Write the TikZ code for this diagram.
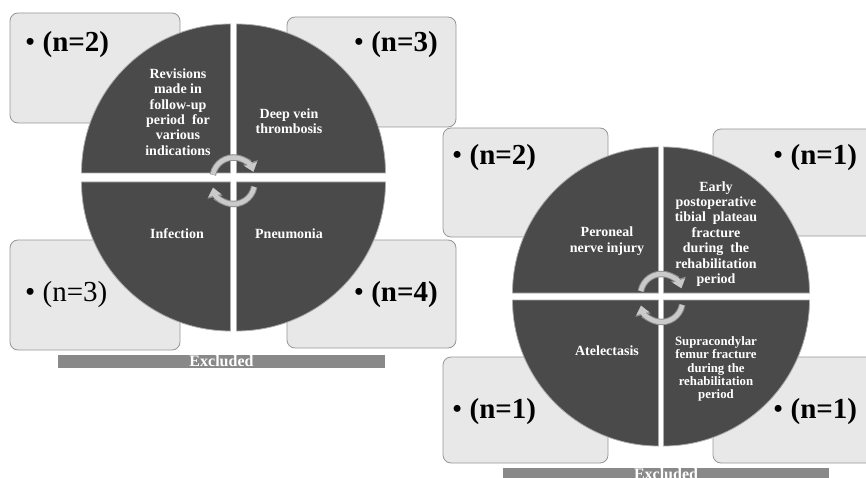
\documentclass[tikz,border=0pt]{standalone}
\usepackage{fontspec}
\setmainfont{Liberation Serif}
\usepackage{xcolor}
\usepackage{tikz}
\usetikzlibrary{arrows.meta}
\usetikzlibrary{positioning}

\definecolor{boxgray}{HTML}{E8E8E8}
\definecolor{boxline}{HTML}{979797}
\definecolor{piegray}{HTML}{4A4A4A}
\definecolor{bargray}{HTML}{898989}
\definecolor{silver}{HTML}{CACACA}
\definecolor{silveredge}{HTML}{8E8E8E}

\begin{document}
\begin{tikzpicture}[x=1pt, y=1pt,
    countbox/.style={fill=boxgray, draw=boxline, line width=0.8pt, rounded corners=8pt},
    piece/.style={fill=piegray, draw=gray!65, line width=0.8pt},
    piecetext/.style={text=white, font=\fontsize{14}{15.4}\selectfont\bfseries, align=center, inner sep=0pt},
    smalltext/.style={text=white, font=\fontsize{12.8}{13.4}\selectfont\bfseries, align=center, inner sep=0pt},
    count/.style={font=\fontsize{29}{32}\selectfont, inner sep=0pt},
    boldcount/.style={count, font=\fontsize{29}{32}\selectfont\bfseries},
    bartext/.style={text=white, font=\fontsize{16}{18}\selectfont\bfseries, inner sep=0pt},
    turnedge/.style={line width=6.5pt, draw=silveredge, -{Triangle[length=10pt, width=15pt]}},
    turn/.style={line width=4.5pt, draw=silver, -{Triangle[length=8pt, width=12.5pt]}}]
    \useasboundingbox (0,0) rectangle (866,477);
    \clip (0,0) rectangle (866,477);

    % Left diagram: boxes
    \draw[countbox] (10,354) rectangle (180,464);
    \draw[countbox] (287,350) rectangle (456,460);
    \draw[countbox] (10,127) rectangle (180,237);
    \draw[countbox] (287,129) rectangle (456,237);

    % Left diagram: quarters
    \draw[piece] (230.5,304) -- ++(-149,0) arc[start angle=180, end angle=90, radius=149] -- cycle;
    \draw[piece] (236.5,304) -- ++(0,149) arc[start angle=90, end angle=0, radius=149] -- cycle;
    \draw[piece] (230.5,295) -- ++(0,-149) arc[start angle=270, end angle=180, radius=149] -- cycle;
    \draw[piece] (236.5,295) -- ++(149,0) arc[start angle=0, end angle=-90, radius=149] -- cycle;

    \node[piecetext] (revisions) at (178,365) {Revisions\\made in\\follow-up\\period~ for\\various\\indications};
    \node[piecetext] (dvt) at (289,356) {Deep vein\\thrombosis};
    \node[piecetext] (infection) at (177,243) {Infection};
    \node[piecetext] (pneumonia) at (289,243) {Pneumonia};

    \node[boldcount, anchor=west] (nrevisions) at (25,432) {\textmd{\textbullet}\ (n=2)};
    \node[boldcount, anchor=east] (ndvt) at (438,432) {\textmd{\textbullet}\ (n=3)};
    \node[count, anchor=west] (ninfection) at (25,182) {\textbullet\ (n=3)};
    \node[boldcount, anchor=east] (npneumonia) at (438,182) {\textmd{\textbullet}\ (n=4)};

    % Left diagram: turning arrows
    \draw[turnedge] (233.5,298.5) ++(170:21) arc[start angle=170, end angle=18, radius=21];
    \draw[turn] (233.5,298.5) ++(169:21) arc[start angle=169, end angle=19, radius=21];
    \draw[turnedge] (233.5,294) ++(-10:21) arc[start angle=-10, end angle=-168, radius=21];
    \draw[turn] (233.5,294) ++(-11:21) arc[start angle=-11, end angle=-167, radius=21];

    \fill[bargray] (58,109) rectangle (385,122);
    \node[bartext] (lexcluded) at (221.5,115.5) {Excluded};

    % Right diagram: boxes
    \draw[countbox] (443,240) rectangle (608,349);
    \draw[countbox] (713,241) rectangle (885,348);
    \draw[countbox] (443,14) rectangle (608,120);
    \draw[countbox] (713,14) rectangle (885,120);

    % Right diagram: quarters
    \draw[piece] (658.5,184) -- ++(-146,0) arc[start angle=180, end angle=90, radius=146] -- cycle;
    \draw[piece] (663.5,184) -- ++(0,146) arc[start angle=90, end angle=0, radius=146] -- cycle;
    \draw[piece] (658.5,177) -- ++(0,-146) arc[start angle=270, end angle=180, radius=146] -- cycle;
    \draw[piece] (663.5,177) -- ++(146,0) arc[start angle=0, end angle=-90, radius=146] -- cycle;

    \node[piecetext] (peroneal) at (607,236) {Peroneal\\nerve injury};
    \node[piecetext] (tibial) at (716,243) {Early\\postoperative\\tibial~ plateau\\fracture\\during~ the\\rehabilitation\\period};
    \node[piecetext] (atelectasis) at (607,126) {Atelectasis};
    \node[smalltext] (femur) at (716,108) {Supracondylar\\femur fracture\\during the\\rehabilitation\\period};

    \node[boldcount, anchor=west] (nperoneal) at (452,319) {\textmd{\textbullet}\ (n=2)};
    \node[boldcount, anchor=west] (ntibial) at (773,319) {\textmd{\textbullet}\ (n=1)};
    \node[boldcount, anchor=west] (natelectasis) at (452,65) {\textmd{\textbullet}\ (n=1)};
    \node[boldcount, anchor=west] (nfemur) at (773,65) {\textmd{\textbullet}\ (n=1)};

    % Right diagram: turning arrows
    \draw[turnedge] (661.5,182) ++(170:21) arc[start angle=170, end angle=18, radius=21];
    \draw[turn] (661.5,182) ++(169:21) arc[start angle=169, end angle=19, radius=21];
    \draw[turnedge] (661.5,176) ++(-10:21) arc[start angle=-10, end angle=-168, radius=21];
    \draw[turn] (661.5,176) ++(-11:21) arc[start angle=-11, end angle=-167, radius=21];

    \fill[bargray] (503,-5) rectangle (829,9);
    \node[bartext] (rexcluded) at (666,3) {Excluded};
\end{tikzpicture}
\end{document}
